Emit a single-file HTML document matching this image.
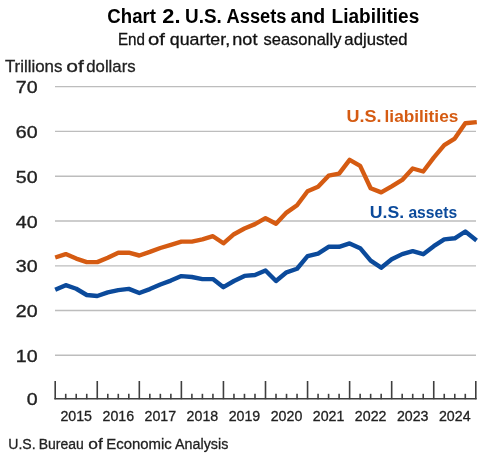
<!DOCTYPE html>
<html><head><meta charset="utf-8"><style>
html,body{margin:0;padding:0;background:#fff;}
svg{display:block;will-change:transform;}
text{font-family:"Liberation Sans",sans-serif;fill:#000;}
.t{font-weight:bold;font-size:20px;}
.st{font-size:16.6px;fill:#111;stroke:#111;stroke-width:0.3px;}
.ax{font-size:17px;fill:#222;stroke:#222;stroke-width:0.3px;}
.yl{font-size:16.8px;fill:#222;stroke:#222;stroke-width:0.35px;}
.xl{font-size:15px;fill:#222;stroke:#222;stroke-width:0.3px;}
.ft{font-size:15.4px;fill:#222;stroke:#222;stroke-width:0.3px;}
.lo{font-weight:bold;font-size:17px;fill:#D55B12;}
.lb{font-weight:bold;font-size:17px;fill:#0B4A9B;}
</style></head><body>
<svg width="504" height="457" viewBox="0 0 504 457">
<rect width="504" height="457" fill="#fff"/>
<text x="107.36" y="22.9" class="t" textLength="48.60" lengthAdjust="spacingAndGlyphs">Chart</text><text x="162.34" y="22.9" class="t" textLength="18.17" lengthAdjust="spacingAndGlyphs">2.</text><text x="185.07" y="22.9" class="t" textLength="36.70" lengthAdjust="spacingAndGlyphs">U.S.</text><text x="226.54" y="22.9" class="t" textLength="59.93" lengthAdjust="spacingAndGlyphs">Assets</text><text x="290.62" y="22.9" class="t" textLength="34.66" lengthAdjust="spacingAndGlyphs">and</text><text x="331.62" y="22.9" class="t" textLength="87.64" lengthAdjust="spacingAndGlyphs">Liabilities</text>
<text x="117.95" y="45.3" class="st" textLength="27.03" lengthAdjust="spacingAndGlyphs">End</text><text x="148.04" y="45.3" class="st" textLength="16.84" lengthAdjust="spacingAndGlyphs">of</text><text x="169.84" y="45.3" class="st" textLength="60.28" lengthAdjust="spacingAndGlyphs">quarter,</text><text x="232.28" y="45.3" class="st" textLength="25.16" lengthAdjust="spacingAndGlyphs">not</text><text x="263.55" y="45.3" class="st" textLength="77.90" lengthAdjust="spacingAndGlyphs">seasonally</text><text x="344.39" y="45.3" class="st" textLength="63.17" lengthAdjust="spacingAndGlyphs">adjusted</text>
<text x="4.92" y="72.0" class="ax" textLength="57.48" lengthAdjust="spacingAndGlyphs">Trillions</text><text x="66.20" y="72.0" class="ax" textLength="17.58" lengthAdjust="spacingAndGlyphs">of</text><text x="86.29" y="72.0" class="ax" textLength="49.31" lengthAdjust="spacingAndGlyphs">dollars</text>
<line x1="55" x2="476" y1="355.30" y2="355.30" stroke="#BDBDBD" stroke-width="1.4"/><line x1="55" x2="476" y1="310.50" y2="310.50" stroke="#BDBDBD" stroke-width="1.4"/><line x1="55" x2="476" y1="265.85" y2="265.85" stroke="#BDBDBD" stroke-width="1.4"/><line x1="55" x2="476" y1="221.00" y2="221.00" stroke="#BDBDBD" stroke-width="1.4"/><line x1="55" x2="476" y1="176.30" y2="176.30" stroke="#BDBDBD" stroke-width="1.4"/><line x1="55" x2="476" y1="131.40" y2="131.40" stroke="#BDBDBD" stroke-width="1.4"/><line x1="55" x2="476" y1="86.60" y2="86.60" stroke="#BDBDBD" stroke-width="1.4"/>
<text x="37.6" y="404.90" text-anchor="end" class="yl" textLength="10.9" lengthAdjust="spacingAndGlyphs">0</text><text x="37.6" y="361.80" text-anchor="end" class="yl" textLength="21.8" lengthAdjust="spacingAndGlyphs">10</text><text x="37.6" y="317.00" text-anchor="end" class="yl" textLength="21.8" lengthAdjust="spacingAndGlyphs">20</text><text x="37.6" y="272.35" text-anchor="end" class="yl" textLength="21.8" lengthAdjust="spacingAndGlyphs">30</text><text x="37.6" y="227.50" text-anchor="end" class="yl" textLength="21.8" lengthAdjust="spacingAndGlyphs">40</text><text x="37.6" y="182.80" text-anchor="end" class="yl" textLength="21.8" lengthAdjust="spacingAndGlyphs">50</text><text x="37.6" y="137.90" text-anchor="end" class="yl" textLength="21.8" lengthAdjust="spacingAndGlyphs">60</text><text x="37.6" y="93.10" text-anchor="end" class="yl" textLength="21.8" lengthAdjust="spacingAndGlyphs">70</text>
<line x1="54.4" x2="476.6" y1="398.8" y2="398.8" stroke="#3F3F3F" stroke-width="1.6"/>
<line x1="55.20" x2="55.20" y1="381" y2="399.2" stroke="#3F3F3F" stroke-width="1.6"/><line x1="65.72" x2="65.72" y1="393.8" y2="399.2" stroke="#3F3F3F" stroke-width="1.6"/><line x1="76.23" x2="76.23" y1="393.8" y2="399.2" stroke="#3F3F3F" stroke-width="1.6"/><line x1="86.75" x2="86.75" y1="393.8" y2="399.2" stroke="#3F3F3F" stroke-width="1.6"/><line x1="97.26" x2="97.26" y1="381" y2="399.2" stroke="#3F3F3F" stroke-width="1.6"/><line x1="107.78" x2="107.78" y1="393.8" y2="399.2" stroke="#3F3F3F" stroke-width="1.6"/><line x1="118.29" x2="118.29" y1="393.8" y2="399.2" stroke="#3F3F3F" stroke-width="1.6"/><line x1="128.81" x2="128.81" y1="393.8" y2="399.2" stroke="#3F3F3F" stroke-width="1.6"/><line x1="139.32" x2="139.32" y1="381" y2="399.2" stroke="#3F3F3F" stroke-width="1.6"/><line x1="149.84" x2="149.84" y1="393.8" y2="399.2" stroke="#3F3F3F" stroke-width="1.6"/><line x1="160.35" x2="160.35" y1="393.8" y2="399.2" stroke="#3F3F3F" stroke-width="1.6"/><line x1="170.87" x2="170.87" y1="393.8" y2="399.2" stroke="#3F3F3F" stroke-width="1.6"/><line x1="181.38" x2="181.38" y1="381" y2="399.2" stroke="#3F3F3F" stroke-width="1.6"/><line x1="191.89" x2="191.89" y1="393.8" y2="399.2" stroke="#3F3F3F" stroke-width="1.6"/><line x1="202.41" x2="202.41" y1="393.8" y2="399.2" stroke="#3F3F3F" stroke-width="1.6"/><line x1="212.93" x2="212.93" y1="393.8" y2="399.2" stroke="#3F3F3F" stroke-width="1.6"/><line x1="223.44" x2="223.44" y1="381" y2="399.2" stroke="#3F3F3F" stroke-width="1.6"/><line x1="233.96" x2="233.96" y1="393.8" y2="399.2" stroke="#3F3F3F" stroke-width="1.6"/><line x1="244.47" x2="244.47" y1="393.8" y2="399.2" stroke="#3F3F3F" stroke-width="1.6"/><line x1="254.99" x2="254.99" y1="393.8" y2="399.2" stroke="#3F3F3F" stroke-width="1.6"/><line x1="265.50" x2="265.50" y1="381" y2="399.2" stroke="#3F3F3F" stroke-width="1.6"/><line x1="276.01" x2="276.01" y1="393.8" y2="399.2" stroke="#3F3F3F" stroke-width="1.6"/><line x1="286.53" x2="286.53" y1="393.8" y2="399.2" stroke="#3F3F3F" stroke-width="1.6"/><line x1="297.05" x2="297.05" y1="393.8" y2="399.2" stroke="#3F3F3F" stroke-width="1.6"/><line x1="307.56" x2="307.56" y1="381" y2="399.2" stroke="#3F3F3F" stroke-width="1.6"/><line x1="318.07" x2="318.07" y1="393.8" y2="399.2" stroke="#3F3F3F" stroke-width="1.6"/><line x1="328.59" x2="328.59" y1="393.8" y2="399.2" stroke="#3F3F3F" stroke-width="1.6"/><line x1="339.11" x2="339.11" y1="393.8" y2="399.2" stroke="#3F3F3F" stroke-width="1.6"/><line x1="349.62" x2="349.62" y1="381" y2="399.2" stroke="#3F3F3F" stroke-width="1.6"/><line x1="360.14" x2="360.14" y1="393.8" y2="399.2" stroke="#3F3F3F" stroke-width="1.6"/><line x1="370.65" x2="370.65" y1="393.8" y2="399.2" stroke="#3F3F3F" stroke-width="1.6"/><line x1="381.17" x2="381.17" y1="393.8" y2="399.2" stroke="#3F3F3F" stroke-width="1.6"/><line x1="391.68" x2="391.68" y1="381" y2="399.2" stroke="#3F3F3F" stroke-width="1.6"/><line x1="402.19" x2="402.19" y1="393.8" y2="399.2" stroke="#3F3F3F" stroke-width="1.6"/><line x1="412.71" x2="412.71" y1="393.8" y2="399.2" stroke="#3F3F3F" stroke-width="1.6"/><line x1="423.22" x2="423.22" y1="393.8" y2="399.2" stroke="#3F3F3F" stroke-width="1.6"/><line x1="433.74" x2="433.74" y1="381" y2="399.2" stroke="#3F3F3F" stroke-width="1.6"/><line x1="444.25" x2="444.25" y1="393.8" y2="399.2" stroke="#3F3F3F" stroke-width="1.6"/><line x1="454.77" x2="454.77" y1="393.8" y2="399.2" stroke="#3F3F3F" stroke-width="1.6"/><line x1="465.29" x2="465.29" y1="393.8" y2="399.2" stroke="#3F3F3F" stroke-width="1.6"/><line x1="475.80" x2="475.80" y1="381" y2="399.2" stroke="#3F3F3F" stroke-width="1.6"/>
<text x="76.23" y="421" text-anchor="middle" class="xl" textLength="31.6" lengthAdjust="spacingAndGlyphs">2015</text><text x="118.29" y="421" text-anchor="middle" class="xl" textLength="31.6" lengthAdjust="spacingAndGlyphs">2016</text><text x="160.35" y="421" text-anchor="middle" class="xl" textLength="31.6" lengthAdjust="spacingAndGlyphs">2017</text><text x="202.41" y="421" text-anchor="middle" class="xl" textLength="31.6" lengthAdjust="spacingAndGlyphs">2018</text><text x="244.47" y="421" text-anchor="middle" class="xl" textLength="31.6" lengthAdjust="spacingAndGlyphs">2019</text><text x="286.53" y="421" text-anchor="middle" class="xl" textLength="31.6" lengthAdjust="spacingAndGlyphs">2020</text><text x="328.59" y="421" text-anchor="middle" class="xl" textLength="31.6" lengthAdjust="spacingAndGlyphs">2021</text><text x="370.65" y="421" text-anchor="middle" class="xl" textLength="31.6" lengthAdjust="spacingAndGlyphs">2022</text><text x="412.71" y="421" text-anchor="middle" class="xl" textLength="31.6" lengthAdjust="spacingAndGlyphs">2023</text><text x="454.77" y="421" text-anchor="middle" class="xl" textLength="31.6" lengthAdjust="spacingAndGlyphs">2024</text>
<polyline points="55.20,257.50 65.72,254.10 76.23,258.60 86.75,262.10 97.26,262.10 107.78,257.70 118.29,252.70 128.81,252.70 139.32,255.50 149.84,251.90 160.35,248.00 170.87,244.80 181.38,241.60 191.89,241.60 202.41,239.40 212.93,236.20 223.44,243.30 233.96,234.20 244.47,228.50 254.99,224.10 265.50,218.20 276.01,223.70 286.53,212.60 297.05,205.20 307.56,191.20 318.07,186.80 328.59,175.70 339.11,173.60 349.62,159.80 360.14,165.90 370.65,188.30 381.17,192.40 391.68,186.40 402.19,179.90 412.71,168.50 423.22,171.50 433.74,157.60 444.25,145.20 454.77,138.60 465.29,123.30 476.79,122.10" fill="none" stroke="#D55B12" stroke-width="4.4" stroke-linejoin="round"/>
<polyline points="55.20,289.75 65.72,285.20 76.23,288.75 86.75,295.00 97.26,296.00 107.78,292.30 118.29,290.10 128.81,288.90 139.32,293.00 149.84,289.10 160.35,284.50 170.87,280.60 181.38,276.10 191.89,277.00 202.41,279.10 212.93,279.10 223.44,287.20 233.96,281.00 244.47,275.90 254.99,275.00 265.50,270.50 276.01,281.00 286.53,272.30 297.05,268.75 307.56,256.20 318.07,253.60 328.59,246.80 339.11,246.80 349.62,243.40 360.14,248.20 370.65,260.70 381.17,267.70 391.68,259.30 402.19,254.10 412.71,251.10 423.22,254.20 433.74,246.20 444.25,239.40 454.77,238.30 465.29,231.50 476.58,240.42" fill="none" stroke="#0B4A9B" stroke-width="4.4" stroke-linejoin="round"/>
<text x="346.52" y="122.4" class="lo" textLength="34.99" lengthAdjust="spacingAndGlyphs">U.S.</text><text x="384.59" y="122.4" class="lo" textLength="73.73" lengthAdjust="spacingAndGlyphs">liabilities</text>
<text x="369.74" y="218.4" class="lb" textLength="34.35" lengthAdjust="spacingAndGlyphs">U.S.</text><text x="408.43" y="218.4" class="lb" textLength="48.72" lengthAdjust="spacingAndGlyphs">assets</text>
<text x="8.31" y="448.7" class="ft" textLength="27.35" lengthAdjust="spacingAndGlyphs">U.S.</text><text x="38.75" y="448.7" class="ft" textLength="45.09" lengthAdjust="spacingAndGlyphs">Bureau</text><text x="88.26" y="448.7" class="ft" textLength="14.52" lengthAdjust="spacingAndGlyphs">of</text><text x="106.27" y="448.7" class="ft" textLength="65.55" lengthAdjust="spacingAndGlyphs">Economic</text><text x="175.06" y="448.7" class="ft" textLength="53.25" lengthAdjust="spacingAndGlyphs">Analysis</text>
</svg>
</body></html>
